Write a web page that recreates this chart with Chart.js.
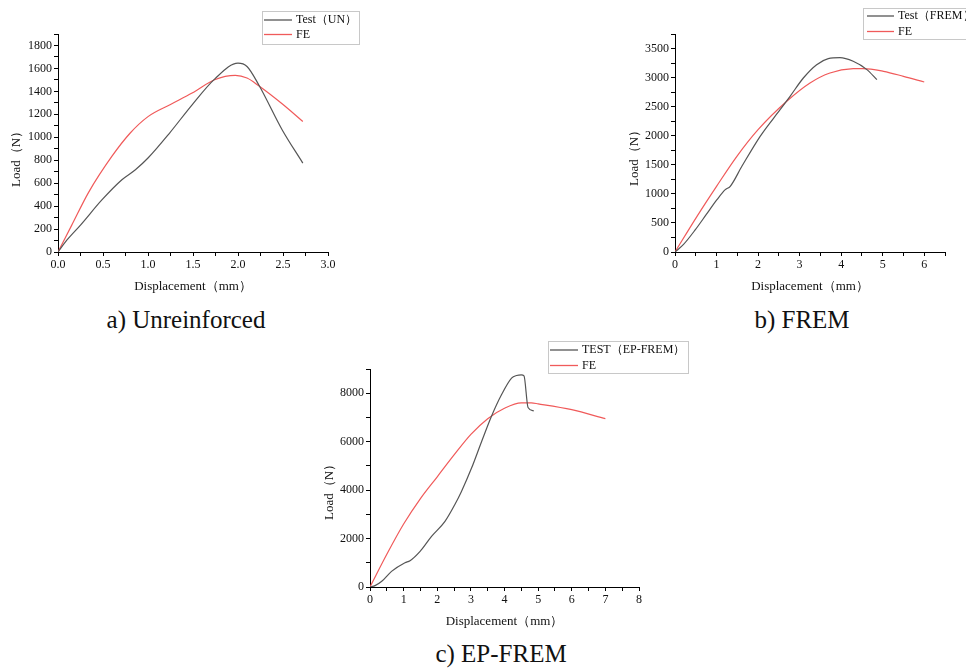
<!DOCTYPE html>
<html>
<head>
<meta charset="utf-8">
<script src="https://cdn.jsdelivr.net/npm/chart.js@4"></script>
<style>
  body { margin: 0; background: #fff; }
  #page { position: relative; width: 966px; height: 668px; overflow: hidden; }
  canvas { position: absolute; }
  .caption {
    position: absolute; width: 300px; text-align: center;
    font: 25px/25px "Liberation Serif", "Times New Roman", serif; color: #111;
  }
</style>
</head>
<body>
<div id="page">
  <canvas id="chartA" width="370" height="300" style="left:0;top:0"></canvas>
  <canvas id="chartB" width="346" height="300" style="left:620px;top:0"></canvas>
  <canvas id="chartC" width="400" height="300" style="left:300px;top:335px"></canvas>
  <div class="caption" style="left:36px;top:307px">a) Unreinforced</div>
  <div class="caption" style="left:652px;top:307px">b) FREM</div>
  <div class="caption" style="left:351px;top:641px">c) EP-FREM</div>
</div>
<script>
// a) Unreinforced
const dispA_test = [0, 0.1, 0.25, 0.49, 0.71, 0.86, 1.0, 1.24, 1.49, 1.74, 2.0, 2.1, 2.23, 2.49, 2.72];
const loadA_test = [0, 105, 235, 456, 630, 717, 819, 1037, 1283, 1507, 1646, 1617, 1458, 1066, 775];
const dispA_fe = [0, 0.15, 0.34, 0.6, 0.8, 1.0, 1.25, 1.49, 1.74, 1.97, 2.1, 2.23, 2.49, 2.72];
const loadA_fe = [0, 230, 520, 835, 1035, 1180, 1286, 1385, 1501, 1539, 1516, 1449, 1292, 1138];

// b) FREM
const dispB_test = [0, 0.2, 0.49, 0.75, 1.01, 1.21, 1.33, 1.61, 2.05, 2.53, 2.77, 3.09, 3.41, 3.69, 3.97, 4.29, 4.62, 4.86];
const loadB_test = [0, 126, 384, 642, 900, 1072, 1130, 1474, 1990, 2448, 2678, 2993, 3222, 3326, 3343, 3280, 3137, 2964];
const dispB_fe = [0, 0.53, 1.0, 1.49, 2.0, 2.69, 3.25, 3.73, 4.29, 4.53, 5.02, 5.5, 6.0];
const loadB_fe = [0, 614, 1130, 1646, 2104, 2592, 2907, 3079, 3154, 3156, 3108, 3022, 2924];

// c) EP-FREM
const dispC_test = [0, 0.15, 0.35, 0.64, 1.04, 1.19, 1.49, 1.83, 2.23, 2.52, 2.72, 3.02, 3.32, 3.61, 3.91, 4.21, 4.36, 4.5, 4.58, 4.7, 4.87];
const loadC_test = [0, 55, 234, 646, 1004, 1086, 1471, 2090, 2709, 3396, 3946, 4909, 6009, 7040, 7934, 8621, 8731, 8759, 8718, 7411, 7274];
const dispC_fe = [0, 0.5, 1, 1.5, 2, 2.5, 3, 3.5, 4, 4.5, 4.8, 5, 6, 7];
const loadC_fe = [0, 1350, 2600, 3650, 4550, 5450, 6300, 6950, 7380, 7600, 7600, 7560, 7320, 6950];

const serif = '"Liberation Serif", "Times New Roman", serif';
const testColor = "#555555";
const feColor = "#f05a5a";

function pts(xs, ys) {
    return xs.map((x, i) => ({ x: x, y: ys[i] }));
}

// legend box drawn inside the canvas
const legendBox = {
    id: "legendBox",
    afterDraw(chart, args, o) {
        const ctx = chart.ctx;
        ctx.save();
        ctx.strokeStyle = "#c8c8c8";
        ctx.lineWidth = 1;
        ctx.strokeRect(o.x + 0.5, o.y + 0.5, o.w, o.h);
        chart.data.datasets.forEach((ds, i) => {
            const yy = o.y + o.rowTop + i * o.rowGap;
            ctx.strokeStyle = ds.borderColor;
            ctx.lineWidth = 1.3;
            ctx.beginPath();
            ctx.moveTo(o.x + o.lineStart, yy);
            ctx.lineTo(o.x + o.lineStart + o.lineLen, yy);
            ctx.stroke();
            ctx.fillStyle = "#111";
            ctx.font = "12px " + serif;
            ctx.textBaseline = "middle";
            ctx.fillText(ds.label, o.x + o.lineStart + o.lineLen + 4, yy);
        });
        ctx.restore();
    },
};

// rotated y title (sits a bit below the axis centre, like the original)
const yTitle = {
    id: "yTitle",
    afterDraw(chart, args, o) {
        const ctx = chart.ctx;
        ctx.save();
        ctx.translate(o.x, o.y);
        ctx.rotate(-Math.PI / 2);
        ctx.font = "13px " + serif;
        ctx.fillStyle = "#111";
        ctx.textAlign = "center";
        ctx.textBaseline = "middle";
        ctx.fillText("Load（N）", 0, 0);
        ctx.restore();
    },
};

function makeChart(id, cfg) {
    const axisBase = {
        type: "linear",
        min: 0,
        border: { color: "#000", width: 1 },
        grid: { drawOnChartArea: false, drawTicks: true, tickLength: 4, tickColor: "#000" },
    };
    return new Chart(document.getElementById(id), {
        type: "scatter",
        data: {
            datasets: [
                {
                    label: cfg.testLabel,
                    data: pts(cfg.testX, cfg.testY),
                    showLine: true,
                    borderColor: testColor,
                    borderWidth: 1.2,
                    pointRadius: 0,
                    cubicInterpolationMode: "monotone",
                },
                {
                    label: "FE",
                    data: pts(cfg.feX, cfg.feY),
                    showLine: true,
                    borderColor: feColor,
                    borderWidth: 1.2,
                    pointRadius: 0,
                    cubicInterpolationMode: "monotone",
                },
            ],
        },
        options: {
            responsive: false,
            animation: false,
            layout: { padding: { top: 34, right: cfg.padRight, left: 0, bottom: 0 } },
            plugins: {
                legend: { display: false },
                tooltip: { enabled: false },
                legendBox: cfg.legend,
                yTitle: cfg.yTitle,
            },
            scales: {
                x: Object.assign({}, axisBase, {
                    max: cfg.xMax,
                    afterFit: (s) => { s.height = 48; },
                    ticks: {
                        stepSize: cfg.xStep,
                        autoSkip: false,
                        maxRotation: 0,
                        padding: 2,
                        color: "#111",
                        font: { family: serif, size: 12 },
                        callback: cfg.xLabel,
                    },
                    title: {
                        display: true,
                        text: "Displacement（mm）",
                        color: "#111",
                        font: { family: serif, size: 13 },
                        padding: { top: 0, bottom: 6 },
                    },
                }),
                y: Object.assign({}, axisBase, {
                    max: cfg.yMax,
                    afterFit: (s) => { s.width = cfg.yWidth; },
                    ticks: {
                        stepSize: cfg.yStep,
                        autoSkip: false,
                        padding: 2,
                        color: "#111",
                        font: { family: serif, size: 12 },
                        callback: cfg.yLabel,
                    },
                }),
            },
        },
        plugins: [legendBox, yTitle],
    });
}

const isMult = (v, m) => Math.abs(v / m - Math.round(v / m)) < 1e-6;

makeChart("chartA", {
    testLabel: "Test（UN）",
    testX: dispA_test, testY: loadA_test,
    feX: dispA_fe, feY: loadA_fe,
    xMax: 3, xStep: 0.25, xLabel: (v) => (isMult(v, 0.5) ? v.toFixed(1) : ""),
    yMax: 1900, yStep: 100, yLabel: (v) => (isMult(v, 200) ? v : ""),
    yWidth: 58, padRight: 42,
    legend: { x: 262, y: 11, w: 97, h: 33, rowTop: 9, rowGap: 14.5, lineStart: 2, lineLen: 28 },
    yTitle: { x: 17, y: 156 },
});

makeChart("chartB", {
    testLabel: "Test（FREM）",
    testX: dispB_test, testY: loadB_test,
    feX: dispB_fe, feY: loadB_fe,
    xMax: 6.5, xStep: 0.5, xLabel: (v) => (isMult(v, 1) ? v : ""),
    yMax: 3750, yStep: 250, yLabel: (v) => (isMult(v, 500) ? v : ""),
    yWidth: 55, padRight: 21,
    legend: { x: 243, y: 8, w: 120, h: 31, rowTop: 8, rowGap: 15.5, lineStart: 4, lineLen: 27 },
    yTitle: { x: 15, y: 155 },
});

makeChart("chartC", {
    testLabel: "TEST（EP-FREM）",
    testX: dispC_test, testY: loadC_test,
    feX: dispC_fe, feY: loadC_fe,
    xMax: 8, xStep: 0.5, xLabel: (v) => (isMult(v, 1) ? v : ""),
    yMax: 9000, yStep: 1000, yLabel: (v) => (isMult(v, 2000) ? v : ""),
    yWidth: 70, padRight: 61,
    legend: { x: 248, y: 6, w: 140, h: 32, rowTop: 9, rowGap: 15.5, lineStart: 2, lineLen: 28 },
    yTitle: { x: 30, y: 154 },
});
</script>
</body>
</html>
